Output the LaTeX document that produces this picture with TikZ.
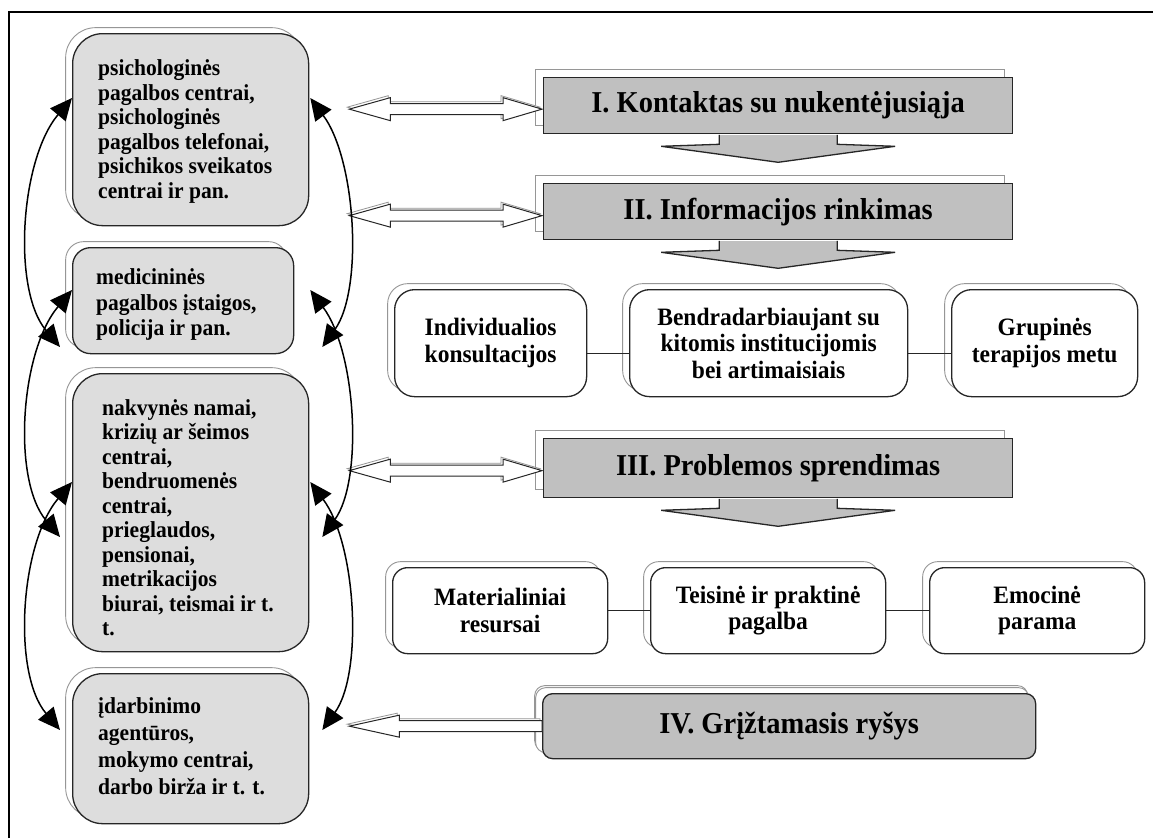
\documentclass[tikz,border=0pt]{standalone}
\usepackage{fontspec}
\setmainfont{Liberation Serif}[FakeStretch=0.94]
\usetikzlibrary{arrows.meta,calc,shadows,backgrounds}
\definecolor{boxgray}{RGB}{221,221,221}
\definecolor{stagegray}{RGB}{192,192,192}
\definecolor{shadowline}{RGB}{150,150,150}
\tikzset{
  shadowA/.style={general shadow={shadow xshift=-7pt, shadow yshift=6pt, fill=white, draw=shadowline, line width=0.9pt}},
  shadowB/.style={general shadow={shadow xshift=-8pt, shadow yshift=8pt, fill=white, draw=shadowline, line width=0.9pt}},
  lbox/.style={shadowA, draw=black!85, line width=1.3pt, fill=boxgray, rounded corners=30pt,
    anchor=north west, inner sep=0pt},
  ltext/.style={anchor=west, align=left, inner sep=0pt,
    font=\bfseries\fontsize{22.9pt}{24.5pt}\selectfont},
  stagebox/.style={shadowB, draw=black!85, line width=1.3pt, fill=stagegray, minimum width=469pt,
    anchor=north west, inner sep=0pt, font=\bfseries\fontsize{30.3pt}{33pt}\selectfont},
  rbox/.style={shadowA, draw=black!85, line width=1.3pt, fill=white, rounded corners=20pt,
    anchor=north west, align=center, inner sep=0pt,
    font=\bfseries\fontsize{25pt}{26.5pt}\selectfont},
  conn/.style={draw=black!85, line width=1.2pt},
  harrow/.style={fill=white, draw=black!85, line width=1pt,
    general shadow={shadow xshift=-2pt, shadow yshift=2pt, fill=white, draw=shadowline, line width=0.8pt}},
  carrow/.style={line width=1.5pt, black, arrows={Triangle[length=22pt,width=20pt]-Triangle[length=22pt,width=20pt]}},
  frameline/.style={line width=2pt, black}
}
\newcommand\dblarrow[2]{%
  \path[harrow] let \p1=#1, \p2=#2 in
    (\x1,\y1) -- (\x1+41pt,\y1+11.5pt) -- (\x1+41pt,\y1+5.5pt) -- (\x2-39pt,\y1+5.5pt)
    -- (\x2-39pt,\y1+11.5pt) -- (\x2,\y1) -- (\x2-39pt,\y1-11.5pt) -- (\x2-39pt,\y1-5.5pt)
    -- (\x1+41pt,\y1-5.5pt) -- (\x1+41pt,\y1-11.5pt) -- cycle;}
\newcommand\backarrow[2]{%
  \path[harrow] let \p1=#1, \p2=#2 in
    (\x1,\y1) -- (\x1+50pt,\y1+11pt) -- (\x1+50pt,\y1+5.5pt) -- (\x2,\y1+5.5pt)
    -- (\x2,\y1-5.5pt) -- (\x1+50pt,\y1-5.5pt) -- (\x1+50pt,\y1-11pt) -- cycle;}
\newcommand\stagearrowshadow[1]{%
  \path[fill=white, draw=shadowline, line width=0.9pt] ($(#1.south)+(-65,-6)$) -- ++(0,10) -- ++(-58,2)
    -- ++(117,16) -- ++(117,-16) -- ++(-58,-2) -- ++(0,-10) -- cycle;}
\newcommand\stagearrow[1]{%
  \fill[stagegray] ($(#1.south)+(-59,0.7)$) -- ++(0,9.3) -- ++(-58,2) -- ++(117,16) -- ++(117,-16)
    -- ++(-58,-2) -- ++(0,-9.3) -- cycle;
  \draw[black!85, line width=1.3pt] ($(#1.south)+(-59,0.6)$) -- ++(0,9.4) -- ++(-58,2) -- ++(117,16)
    -- ++(117,-16) -- ++(-58,-2) -- ++(0,-9.4);}
\begin{document}
\begin{tikzpicture}[x=1pt,y=-1pt]
\useasboundingbox (0,0) rectangle (1153,838);
\fill[white] (0,0) rectangle (1153,838);
\draw[frameline] (9,838) -- (9,12) -- (1153,12);

% left column
\node[lbox, minimum width=236pt, minimum height=192pt] (A) at (72,33) {};
\node[ltext] (At) at ($(A.west)+(26,2)$)
  {psichologinės\\pagalbos centrai,\\psichologinės\\pagalbos telefonai,\\psichikos sveikatos\\centrai ir pan.};
\node[lbox, rounded corners=18pt, minimum width=221pt, minimum height=106pt] (B) at (72,247) {};
\node[ltext, font=\bfseries\fontsize{22.9pt}{25.5pt}\selectfont] (Bt) at ($(B.west)+(24,4)$)
  {medicininės\\pagalbos įstaigos,\\policija ir pan.};
\node[lbox, minimum width=236pt, minimum height=278pt] (C) at (72,373) {};
\node[ltext] (Ct) at ($(C.west)+(30,5)$)
  {nakvynės namai,\\krizių ar šeimos\\centrai,\\bendruomenės\\centrai,\\prieglaudos,\\pensionai,\\metrikacijos\\biurai, teismai ir t.\\t.};
\node[lbox, minimum width=236pt, minimum height=150pt] (D) at (72,673) {};
\node[ltext, font=\bfseries\fontsize{22.9pt}{27pt}\selectfont] (Dt) at ($(D.west)+(26,-2)$)
  {įdarbinimo\\agentūros,\\mokymo centrai,\\darbo birža ir t. t.};

% stages
\node[stagebox, minimum height=56pt] (S1) at (543,77) {I. Kontaktas su nukentėjusiąja};
\node[stagebox, minimum height=56pt] (S2) at (543,183) {II. Informacijos rinkimas};
\node[stagebox, minimum height=59pt] (S3) at (543,438) {III. Problemos sprendimas};
\node[stagebox, shadowA, rounded corners=10pt, minimum width=493pt, minimum height=65pt] (S4) at (542,693) {IV. Grįžtamasis ryšys};

\begin{pgfonlayer}{background}
  \stagearrowshadow{S1}
  \stagearrowshadow{S2}
  \stagearrowshadow{S3}
\end{pgfonlayer}
\stagearrow{S1}
\stagearrow{S2}
\stagearrow{S3}

% rows
\node[rbox, minimum width=192pt, minimum height=107pt] (R1) at (394,289) {Individualios\\konsultacijos};
\node[rbox, minimum width=278pt, minimum height=107pt] (R2) at (629,289) {Bendradarbiaujant su\\kitomis institucijomis\\bei artimaisiais};
\node[rbox, minimum width=186pt, minimum height=107pt] (R3) at (951,289) {Grupinės\\terapijos metu};
\node[rbox, rounded corners=15pt, minimum width=215pt, minimum height=86pt] (Q1) at (392,567) {Materialiniai\\resursai};
\node[rbox, rounded corners=15pt, minimum width=235pt, minimum height=86pt] (Q2) at (650,567) {Teisinė ir praktinė\\pagalba};
\node[rbox, rounded corners=15pt, minimum width=215pt, minimum height=86pt] (Q3) at (929,567) {Emocinė\\parama};

\draw[conn] ([yshift=-10pt]R1.east) -- ([yshift=-10pt]R2.west);
\draw[conn] ([yshift=-10pt]R2.east) -- ([yshift=-10pt]R3.west);
\draw[conn] (Q1.east) -- (Q2.west);
\draw[conn] (Q2.east) -- (Q3.west);

% hollow arrows
\dblarrow{($(A.east |- S1.west)+(40,3.5)$)}{($(S1.west)+(-1,3.5)$)}
\dblarrow{($(A.east |- S2.west)+(40,4)$)}{($(S2.west)+(-1,4)$)}
\dblarrow{($(C.east |- S3.west)+(40,2.5)$)}{($(S3.west)+(-1,2.5)$)}
\backarrow{($(D.east |- S4.west)+(40,0)$)}{(S4.west)}

% curved arrows, left
\draw[carrow] ([yshift=-65pt]A.north west) .. controls +(-52,62) and +(-48,-57) .. ([xshift=-12pt,yshift=-100pt]B.north west);
\draw[carrow] ([yshift=-43pt]B.north west) .. controls +(-52,62) and +(-48,-57) .. ([xshift=-12pt,yshift=-164pt]C.north west);
\draw[carrow] ([yshift=-109pt]C.north west) .. controls +(-52,62) and +(-48,-57) .. ([xshift=-12pt,yshift=-57pt]D.north west);
% curved arrows, right
\draw[carrow] ([xshift=1pt,yshift=-65pt]A.north east) .. controls +(46,62) and +(41,-57) .. ([xshift=28pt,yshift=-100pt]B.north east);
\draw[carrow] ([xshift=16pt,yshift=-43pt]B.north east) .. controls +(46,62) and +(41,-57) .. ([xshift=13pt,yshift=-164pt]C.north east);
\draw[carrow] ([xshift=1pt,yshift=-109pt]C.north east) .. controls +(46,62) and +(41,-57) .. ([xshift=13pt,yshift=-57pt]D.north east);
\end{tikzpicture}
\end{document}
